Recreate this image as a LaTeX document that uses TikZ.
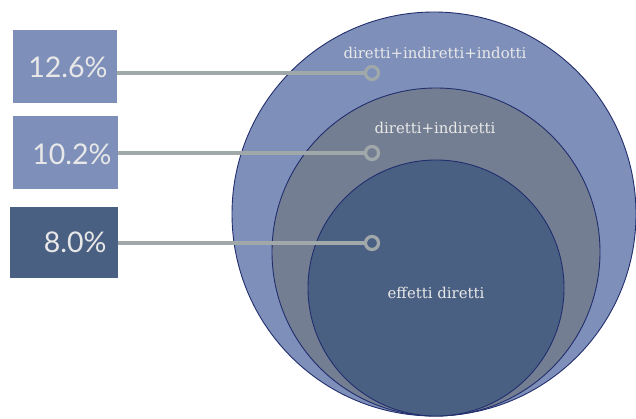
\documentclass[tikz,border=0pt]{standalone}
\usepackage{fontspec}
\setmainfont{DejaVu Serif}
\newfontfamily\boxfont{Lato}
\definecolor{outerC}{RGB}{126,144,186}
\definecolor{midC}{RGB}{115,126,146}
\definecolor{innerC}{RGB}{74,96,130}
\definecolor{edgeC}{RGB}{34,46,110}
\definecolor{lineC}{RGB}{160,168,170}
\definecolor{txtC}{RGB}{232,232,232}
\tikzset{
  bubble/.style={circle, draw=edgeC, line width=0.9pt, inner sep=0pt},
  pctbox/.style={rectangle, inner sep=0pt, anchor=north west},
  pcttext/.style={anchor=east, text=txtC, font=\boxfont\fontsize{28.5}{32}\selectfont},
  ring/.style={circle, draw=lineC, line width=3.2pt, minimum size=13pt, inner sep=0pt},
  lead/.style={draw=lineC, line width=3.2pt},
  lbl/.style={text=txtC, font=\fontsize{14.9}{16}\selectfont}
}
\begin{document}
\begin{tikzpicture}[x=1pt,y=-1pt]
\useasboundingbox (0,0) rectangle (636,419);
\fill[white] (0,0) rectangle (636,419);
% circles
\node[bubble, fill=outerC, minimum size=404pt] (outer) at (434,214) {};
\node[bubble, fill=midC, minimum size=328pt] (mid) at (436,252) {};
\node[bubble, fill=innerC, minimum size=256pt] (inner) at (436,288) {};
% labels
\node[lbl] (l1) at (435,53) {diretti+indiretti+indotti};
\node[lbl] (l2) at (435,128) {diretti+indiretti};
\node[lbl] (l3) at (436,293) {effetti diretti};
% boxes
\node[pctbox, fill=outerC, minimum width=104pt, minimum height=73pt] (b1) at (13,30) {};
\node[pctbox, fill=outerC, minimum width=105pt, minimum height=73pt] (b2) at (13,116) {};
\node[pctbox, fill=innerC, minimum width=108pt, minimum height=71pt] (b3) at (10,207) {};
\node[pcttext] (t1) at (111,67) {12.6\%};
\node[pcttext] (t2) at (115,154) {10.2\%};
\node[pcttext] (t3) at (110,242) {8.0\%};
% rings
\node[ring] (r1) at (372,73) {};
\node[ring] (r2) at (372,153) {};
\node[ring] (r3) at (372,243) {};
% leader lines
\draw[lead] (r1 -| b1.east) -- (r1.west);
\draw[lead] (r2 -| b2.east) -- (r2.west);
\draw[lead] (r3 -| b3.east) -- (r3.west);
\end{tikzpicture}
\end{document}
